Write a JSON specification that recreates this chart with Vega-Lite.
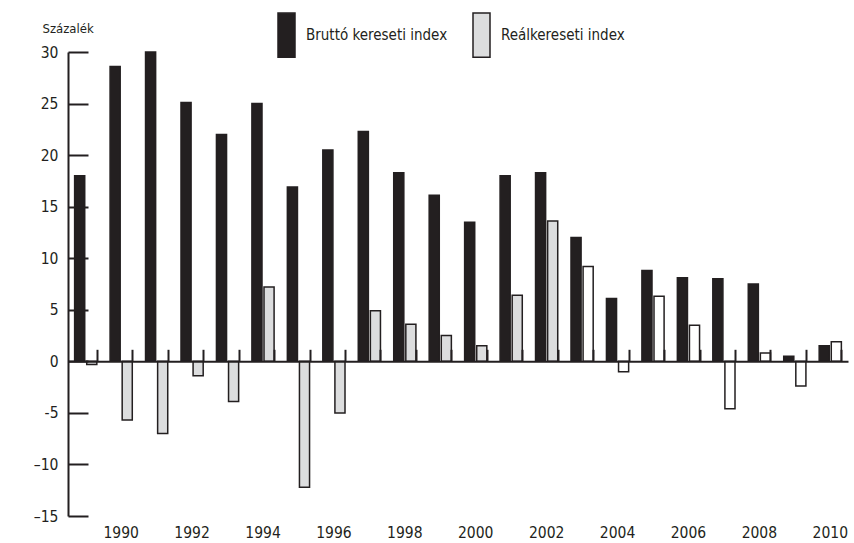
{
  "$schema": "https://vega.github.io/schema/vega-lite/v6.json",
  "width": 780,
  "height": 464,
  "autosize": {"type": "none"},
  "padding": {"left": 68, "top": 52, "right": 6, "bottom": 27},
  "background": "white",
  "config": {
    "view": {"stroke": null},
    "font": "DejaVu Sans Condensed, sans-serif"
  },
  "data": {
    "values": [
      {"year": 1989, "series": "Bruttó kereseti index", "value": 18.0},
      {"year": 1989, "series": "Reálkereseti index", "value": -0.3},
      {"year": 1990, "series": "Bruttó kereseti index", "value": 28.6},
      {"year": 1990, "series": "Reálkereseti index", "value": -5.7},
      {"year": 1991, "series": "Bruttó kereseti index", "value": 30.0},
      {"year": 1991, "series": "Reálkereseti index", "value": -7.0},
      {"year": 1992, "series": "Bruttó kereseti index", "value": 25.1},
      {"year": 1992, "series": "Reálkereseti index", "value": -1.4},
      {"year": 1993, "series": "Bruttó kereseti index", "value": 22.0},
      {"year": 1993, "series": "Reálkereseti index", "value": -3.9},
      {"year": 1994, "series": "Bruttó kereseti index", "value": 25.0},
      {"year": 1994, "series": "Reálkereseti index", "value": 7.2},
      {"year": 1995, "series": "Bruttó kereseti index", "value": 16.9},
      {"year": 1995, "series": "Reálkereseti index", "value": -12.2},
      {"year": 1996, "series": "Bruttó kereseti index", "value": 20.5},
      {"year": 1996, "series": "Reálkereseti index", "value": -5.0},
      {"year": 1997, "series": "Bruttó kereseti index", "value": 22.3},
      {"year": 1997, "series": "Reálkereseti index", "value": 4.9},
      {"year": 1998, "series": "Bruttó kereseti index", "value": 18.3},
      {"year": 1998, "series": "Reálkereseti index", "value": 3.6},
      {"year": 1999, "series": "Bruttó kereseti index", "value": 16.1},
      {"year": 1999, "series": "Reálkereseti index", "value": 2.5},
      {"year": 2000, "series": "Bruttó kereseti index", "value": 13.5},
      {"year": 2000, "series": "Reálkereseti index", "value": 1.5},
      {"year": 2001, "series": "Bruttó kereseti index", "value": 18.0},
      {"year": 2001, "series": "Reálkereseti index", "value": 6.4},
      {"year": 2002, "series": "Bruttó kereseti index", "value": 18.3},
      {"year": 2002, "series": "Reálkereseti index", "value": 13.6},
      {"year": 2003, "series": "Bruttó kereseti index", "value": 12.0},
      {"year": 2003, "series": "Reálkereseti index", "value": 9.2},
      {"year": 2004, "series": "Bruttó kereseti index", "value": 6.1},
      {"year": 2004, "series": "Reálkereseti index", "value": -1.0},
      {"year": 2005, "series": "Bruttó kereseti index", "value": 8.8},
      {"year": 2005, "series": "Reálkereseti index", "value": 6.3},
      {"year": 2006, "series": "Bruttó kereseti index", "value": 8.1},
      {"year": 2006, "series": "Reálkereseti index", "value": 3.5},
      {"year": 2007, "series": "Bruttó kereseti index", "value": 8.0},
      {"year": 2007, "series": "Reálkereseti index", "value": -4.6},
      {"year": 2008, "series": "Bruttó kereseti index", "value": 7.5},
      {"year": 2008, "series": "Reálkereseti index", "value": 0.8},
      {"year": 2009, "series": "Bruttó kereseti index", "value": 0.5},
      {"year": 2009, "series": "Reálkereseti index", "value": -2.4},
      {"year": 2010, "series": "Bruttó kereseti index", "value": 1.5},
      {"year": 2010, "series": "Reálkereseti index", "value": 1.9}
    ]
  },
  "layer": [
    {
      "mark": {"type": "bar", "stroke": "#231f20", "strokeWidth": 1.5},
      "encoding": {
        "x": {
          "field": "year",
          "type": "ordinal",
          "scale": {"paddingInner": 0.374, "paddingOuter": 0.187},
          "axis": {
            "orient": "bottom",
            "title": null,
            "domain": false,
            "ticks": false,
            "labelAngle": 0,
            "labelFontSize": 15.5,
            "labelColor": "#231f20",
            "labelPadding": 9,
            "values": [1990, 1992, 1994, 1996, 1998, 2000, 2002, 2004, 2006, 2008, 2010]
          }
        },
        "xOffset": {
          "field": "series",
          "type": "nominal",
          "sort": ["Bruttó kereseti index", "Reálkereseti index"],
          "scale": {"paddingInner": 0.165, "paddingOuter": 0}
        },
        "y": {
          "field": "value",
          "type": "quantitative",
          "scale": {"domain": [-15, 30], "nice": false},
          "axis": {
            "orient": "left",
            "title": "Százalék",
            "titleAngle": 0,
            "titleAlign": "left",
            "titleBaseline": "alphabetic",
            "titleX": -26,
            "titleY": -20,
            "titleFontSize": 13,
            "titleFontWeight": "normal",
            "titleColor": "#231f20",
            "values": [-15, -10, -5, 0, 5, 10, 15, 20, 25, 30],
            "labelExpr": "datum.value == -5 ? '-5' : (datum.value < 0 ? '–' + abs(datum.value) : '' + datum.value)",
            "labelFontSize": 15.5,
            "labelColor": "#231f20",
            "labelPadding": 10,
            "grid": false,
            "ticks": false,
            "domainColor": "#231f20",
            "domainWidth": 2
          }
        },
        "fill": {
          "condition": {"test": "datum.series === 'Reálkereseti index' && datum.year >= 2003", "value": "white"},
          "field": "series",
          "type": "nominal",
          "scale": {"domain": ["Bruttó kereseti index", "Reálkereseti index"], "range": ["#231f20", "#dcddde"]},
          "legend": {
            "title": null,
            "orient": "none",
            "legendX": 209,
            "legendY": -26.5,
            "direction": "horizontal",
            "symbolType": "M-1,-2.6H1V2.6H-1Z",
            "symbolSize": 289,
            "symbolStrokeColor": "#231f20",
            "symbolStrokeWidth": 1.5,
            "symbolOpacity": 1,
            "labelFontSize": 15,
            "labelColor": "#231f20",
            "labelOffset": 10,
            "labelLimit": 400,
            "columnPadding": 22
          }
        }
      }
    },
    {
      "mark": {"type": "bar", "opacity": 0},
      "encoding": {
        "x": {
          "field": "year",
          "type": "ordinal",
          "axis": {
            "orient": "top",
            "title": null,
            "labels": false,
            "offset": -309.3,
            "domainColor": "#231f20",
            "domainWidth": 2,
            "tickColor": "#231f20",
            "tickWidth": 2,
            "tickSize": 12,
            "tickBand": "extent",
            "zindex": 1
          }
        },
        "y": {
          "field": "value",
          "type": "quantitative",
          "axis": {
            "orient": "right",
            "title": null,
            "offset": -780,
            "labels": false,
            "domain": false,
            "grid": false,
            "values": [-15, -10, -5, 0, 5, 10, 15, 20, 25, 30],
            "tickColor": "#231f20",
            "tickWidth": 2,
            "tickSize": 20,
            "zindex": 1
          }
        }
      }
    }
  ]
}
